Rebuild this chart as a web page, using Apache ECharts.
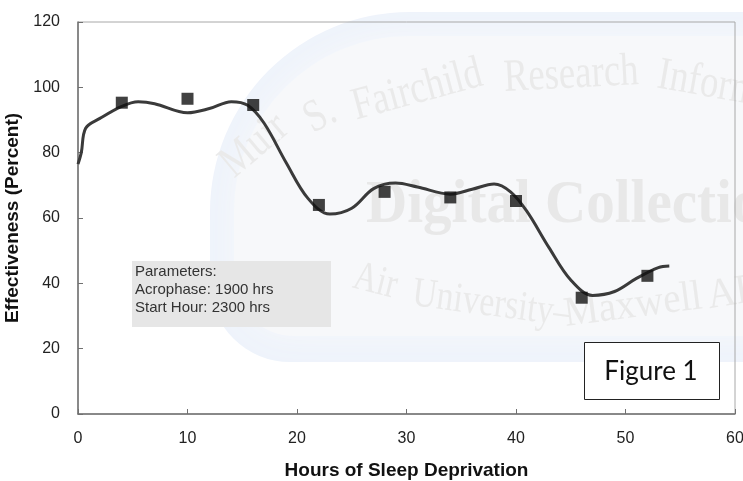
<!DOCTYPE html>
<html>
<head>
<meta charset="utf-8">
<script src="https://cdn.jsdelivr.net/npm/echarts@6/dist/echarts.min.js"></script>
<style>html,body{margin:0;padding:0;background:#fff;}#c{width:743px;height:481px;}</style>
</head>
<body>
<div id="c"></div>
<script>
// ---- data ----
const markerX = [4, 10, 16, 22, 28, 34, 40, 46, 52];
const markerY = [95.3, 96.5, 94.6, 64, 68, 66.3, 65.2, 35.6, 42.3];
const curveX = [0, 0.3, 0.7, 2, 4, 5.5, 7, 10, 12, 14, 15.5, 17, 19, 21, 23, 25, 27, 29, 31, 34, 36, 38, 39.5, 41, 43, 45, 47, 49, 51, 53, 54];
const curveY = [76.5, 80, 87.5, 90.5, 94.2, 95.6, 95, 92.2, 93.5, 95.6, 94.5, 89, 77, 66, 61.2, 63, 69, 70.7, 69.5, 67.3, 68.8, 70.4, 68, 62, 51, 41, 36.3, 37.5, 41.5, 44.8, 45.3];
const xMin = 0, xMax = 60, xStep = 10;
const yMin = 0, yMax = 120, yStep = 20;
const xTitle = 'Hours of Sleep Deprivation';
const yTitle = 'Effectiveness (Percent)';
const paramLines = ['Parameters:', 'Acrophase: 1900 hrs', 'Start Hour: 2300 hrs'];
const figLabel = 'Figure 1';
const wmTop = ['Muir', 'S.', 'Fairchild', 'Research', 'Information'];
const wmMid = 'Digital Collection';
const wmBottom = ['Air', 'University\u2013', 'Maxwell', 'AFB'];

const chart = echarts.init(document.getElementById('c'), null, {renderer: 'canvas'});
const curve = curveX.map((x, i) => [x, curveY[i]]);
const marks = markerX.map((x, i) => [x, markerY[i]]);

const deg = d => d * Math.PI / 180;
const wmFill = '#eaeaea';
const wmTopPos = [[241, 187, 40, 0.8], [318, 143, 28, 0.8], [359, 130, 15, 0.8], [505, 102, 3, 0.8], [654, 98, -10, 0.8]];
const wmBotPos = [[349, 297, -14, 0.78], [410, 315, -7.5, 0.8], [567, 336, 7.5, 0.93], [711, 318, 9, 0.93]];
const wmGraphics = [];
wmTop.forEach((w, i) => wmGraphics.push({type: 'text', z: -5, silent: true,
  x: wmTopPos[i][0], y: wmTopPos[i][1], rotation: deg(wmTopPos[i][2]), scaleX: wmTopPos[i][3],
  style: {text: w, font: '46px "Liberation Serif"', fill: wmFill, verticalAlign: 'bottom'}}));
wmBottom.forEach((w, i) => wmGraphics.push({type: 'text', z: -5, silent: true,
  x: wmBotPos[i][0], y: wmBotPos[i][1], rotation: deg(wmBotPos[i][2]), scaleX: wmBotPos[i][3],
  style: {text: w, font: '42px "Liberation Serif"', fill: wmFill, verticalAlign: 'bottom'}}));
wmGraphics.push({type: 'text', z: -5, silent: true, x: 366, y: 237, scaleX: 0.92,
  style: {text: wmMid, font: 'bold 62px "Liberation Serif"', fill: '#e8e8e8', verticalAlign: 'bottom'}});

const option = {
  animation: false,
  backgroundColor: '#ffffff',
  grid: {left: 78, right: 8, top: 22, bottom: 67, outerBoundsMode: 'none', containLabel: false,
    show: true, borderColor: '#a8a8a8', borderWidth: 1, backgroundColor: 'transparent'},
  xAxis: {
    type: 'value', min: xMin, max: xMax, interval: xStep,
    name: xTitle, nameLocation: 'middle', nameGap: 47,
    nameTextStyle: {fontFamily: 'Liberation Sans', fontWeight: 'bold', fontSize: 19, color: '#111'},
    axisLine: {show: true, lineStyle: {color: '#707070', width: 1.5}},
    axisTick: {show: true, inside: true, length: 5, lineStyle: {color: '#707070'}},
    axisLabel: {fontFamily: 'Liberation Sans', fontSize: 16, color: '#222', margin: 17},
    splitLine: {show: false}
  },
  yAxis: {
    type: 'value', min: yMin, max: yMax, interval: yStep,
    name: yTitle, nameLocation: 'middle', nameGap: 41, nameRotate: 90,
    nameTextStyle: {fontFamily: 'Liberation Sans', fontWeight: 'bold', fontSize: 19, color: '#111'},
    axisLine: {show: true, lineStyle: {color: '#707070', width: 1.5}},
    axisTick: {show: true, inside: true, length: 5, lineStyle: {color: '#707070'}},
    axisLabel: {fontFamily: 'Liberation Sans', fontSize: 16, color: '#222', margin: 18},
    splitLine: {show: false}
  },
  graphic: [
    {type: 'rect', z: -12, silent: true,
      shape: {x: 210, y: 12, width: 560, height: 350, r: [200, 0, 0, 80]},
      style: {fill: '#eef3fb'}},
    {type: 'rect', z: -11, silent: true,
      shape: {x: 234, y: 36, width: 540, height: 300, r: [175, 0, 0, 60]},
      style: {fill: '#f7f8fa', shadowBlur: 34, shadowColor: '#f7f8fa'}},
    ...wmGraphics,
    {type: 'rect', z: 5, silent: true,
      shape: {x: 132, y: 261, width: 199, height: 66},
      style: {fill: '#e6e6e6'}},
    {type: 'text', z: 6, silent: true, x: 135, y: 263,
      style: {text: paramLines.join('\n'), font: '15px "Liberation Sans"', fill: '#333', lineHeight: 18}},
    {type: 'rect', z: 5, silent: true,
      shape: {x: 584.5, y: 342.5, width: 135, height: 57},
      style: {fill: '#ffffff', stroke: '#222', lineWidth: 1}},
    {type: 'text', z: 6, silent: true, x: 651, y: 372,
      style: {text: figLabel, font: '26px Lato', fill: '#111', align: 'center', verticalAlign: 'middle'}}
  ],
  series: [
    {type: 'line', data: curve, smooth: 0.35, showSymbol: false, symbol: 'none',
      lineStyle: {color: '#3a3a3a', width: 3}, z: 3},
    {type: 'scatter', data: marks, symbol: 'rect', symbolSize: 12,
      itemStyle: {color: '#111'}, z: 4}
  ]
};
chart.setOption(option);
</script>
</body>
</html>
